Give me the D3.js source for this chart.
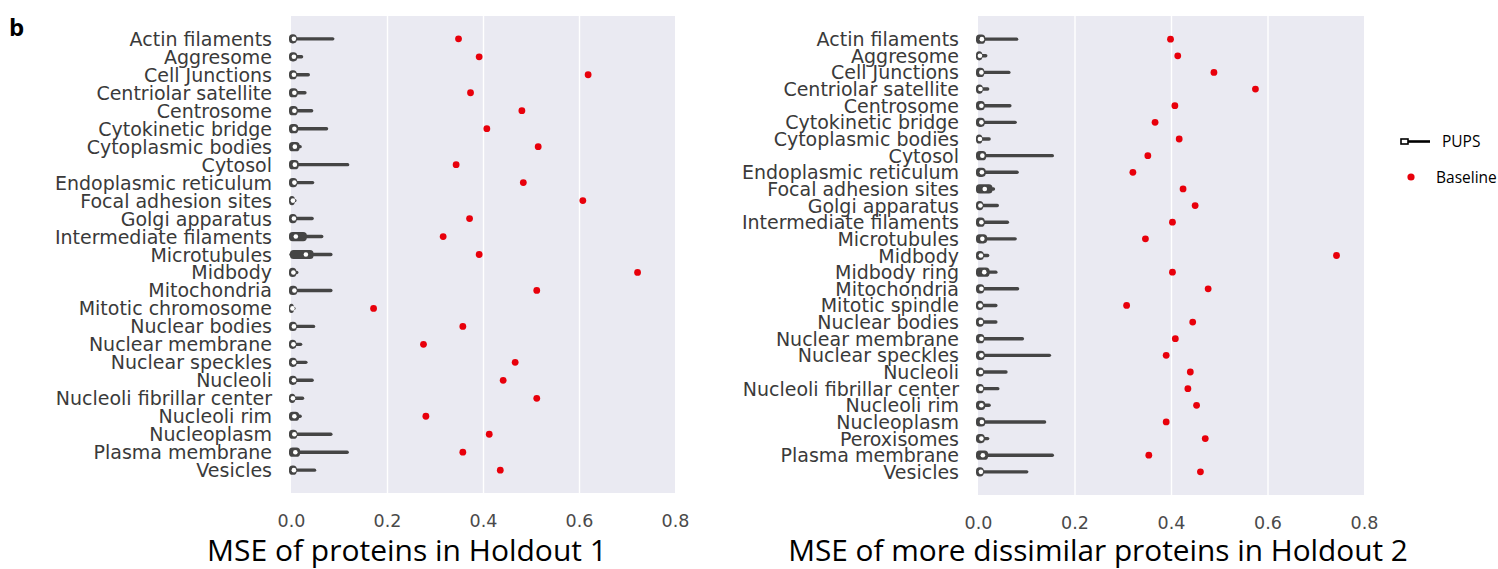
<!DOCTYPE html>
<html>
<head>
<meta charset="utf-8">
<script src="https://cdn.jsdelivr.net/npm/d3@7"></script>
<style>
  body { margin: 0; background: #fff; }
  svg { display: block; }
</style>
</head>
<body>
<svg id="chart" width="1498" height="569"></svg>
<script>
// ---- data ----
var cats1 = ['Actin filaments', 'Aggresome', 'Cell Junctions', 'Centriolar satellite', 'Centrosome',
  'Cytokinetic bridge', 'Cytoplasmic bodies', 'Cytosol', 'Endoplasmic reticulum', 'Focal adhesion sites',
  'Golgi apparatus', 'Intermediate filaments', 'Microtubules', 'Midbody', 'Mitochondria',
  'Mitotic chromosome', 'Nuclear bodies', 'Nuclear membrane', 'Nuclear speckles', 'Nucleoli',
  'Nucleoli fibrillar center', 'Nucleoli rim', 'Nucleoplasm', 'Plasma membrane', 'Vesicles'];
var baseline1 = [0.349, 0.392, 0.619, 0.374, 0.481, 0.408, 0.515, 0.344, 0.484, 0.608,
  0.372, 0.317, 0.392, 0.722, 0.512, 0.172, 0.358, 0.276, 0.467, 0.442,
  0.512, 0.281, 0.413, 0.358, 0.436];
// PUPS distribution summary: box low / median / box high / upper whisker
var q1_1 = [0, 0, 0, 0, 0, 0, 0, 0, 0, 0, 0, 0, 0.002, 0, 0, 0, 0, 0, 0, 0, 0, 0, 0, 0, 0];
var med1 = [0.006, 0.006, 0.006, 0.007, 0.007, 0.007, 0.008, 0.008, 0.007, 0.004,
  0.006, 0.010, 0.031, 0.005, 0.007, 0.003, 0.006, 0.005, 0.006, 0.006,
  0.004, 0.007, 0.007, 0.009, 0.006];
var q3_1 = [0.012, 0.013, 0.012, 0.014, 0.014, 0.015, 0.018, 0.016, 0.013, 0.008,
  0.012, 0.033, 0.047, 0.011, 0.013, 0.006, 0.012, 0.011, 0.012, 0.012,
  0.009, 0.017, 0.013, 0.019, 0.012];
var whisker1 = [0.087, 0.022, 0.036, 0.029, 0.043, 0.074, 0.019, 0.118, 0.045, 0.008,
  0.044, 0.064, 0.083, 0.012, 0.083, 0.006, 0.047, 0.020, 0.031, 0.044,
  0.024, 0.019, 0.083, 0.117, 0.049];

var cats2 = ['Actin filaments', 'Aggresome', 'Cell Junctions', 'Centriolar satellite', 'Centrosome',
  'Cytokinetic bridge', 'Cytoplasmic bodies', 'Cytosol', 'Endoplasmic reticulum', 'Focal adhesion sites',
  'Golgi apparatus', 'Intermediate filaments', 'Microtubules', 'Midbody', 'Midbody ring',
  'Mitochondria', 'Mitotic spindle', 'Nuclear bodies', 'Nuclear membrane', 'Nuclear speckles',
  'Nucleoli', 'Nucleoli fibrillar center', 'Nucleoli rim', 'Nucleoplasm', 'Peroxisomes',
  'Plasma membrane', 'Vesicles'];
var baseline2 = [0.399, 0.414, 0.489, 0.575, 0.408, 0.367, 0.417, 0.352, 0.321, 0.425,
  0.450, 0.403, 0.347, 0.743, 0.403, 0.477, 0.308, 0.445, 0.409, 0.390,
  0.440, 0.435, 0.453, 0.390, 0.471, 0.354, 0.461];
var q1_2 = [0, 0, 0, 0, 0, 0, 0, 0, 0, 0, 0, 0, 0, 0, 0, 0, 0, 0, 0, 0, 0, 0, 0, 0, 0, 0, 0];
var med2 = [0.008, 0.004, 0.007, 0.005, 0.007, 0.007, 0.004, 0.009, 0.008, 0.014,
  0.005, 0.007, 0.009, 0.006, 0.013, 0.007, 0.005, 0.006, 0.007, 0.007,
  0.006, 0.006, 0.007, 0.008, 0.007, 0.010, 0.006];
var q3_2 = [0.015, 0.009, 0.013, 0.010, 0.014, 0.014, 0.009, 0.017, 0.016, 0.030,
  0.011, 0.014, 0.019, 0.012, 0.024, 0.013, 0.011, 0.012, 0.013, 0.014,
  0.012, 0.012, 0.015, 0.015, 0.014, 0.021, 0.012];
var whisker2 = [0.080, 0.016, 0.064, 0.020, 0.066, 0.077, 0.023, 0.154, 0.081, 0.032,
  0.040, 0.061, 0.077, 0.020, 0.037, 0.082, 0.037, 0.037, 0.092, 0.148,
  0.058, 0.041, 0.023, 0.138, 0.020, 0.154, 0.101];

var xTicks = [0, 0.2, 0.4, 0.6, 0.8];

var svg = d3.select('#chart');
var bgColor = '#eaeaf2';
var violinColor = '#454545';
var dotColor = '#e8000b';

function draw_panel(opts) {
  var xScale = d3.scaleLinear().domain([0, 0.8]).range([opts.left, opts.right]);
  var yScale = d3.scalePoint().domain(opts.cats).range([opts.top, opts.bottom]).padding(opts.pad);
  var g = svg.append('g');

  g.append('rect')
    .attr('x', opts.left).attr('y', opts.top)
    .attr('width', opts.right - opts.left).attr('height', opts.bottom - opts.top)
    .attr('fill', bgColor);

  // vertical grid lines
  g.append('g')
    .attr('transform', 'translate(0,' + opts.bottom + ')')
    .call(d3.axisBottom(xScale).tickValues(xTicks.slice(1, -1)).tickSize(-(opts.bottom - opts.top)).tickFormat(''))
    .call(function(a) { a.select('.domain').remove(); })
    .selectAll('line').attr('stroke', '#fff').attr('stroke-width', 1.4);

  // tick labels
  g.append('g')
    .attr('transform', 'translate(0,' + (opts.bottom + 19) + ')')
    .call(d3.axisBottom(xScale).tickValues(xTicks).tickSize(0).tickFormat(d3.format('.1f')))
    .call(function(a) { a.select('.domain').remove(); })
    .selectAll('text')
    .attr('font-family', 'DejaVu Sans').attr('font-size', 17.5).attr('fill', '#4a4a4a');

  // category labels
  g.append('g').selectAll('text')
    .data(opts.cats)
    .enter().append('text')
    .attr('x', opts.left - 19)
    .attr('y', function(d) { return yScale(d) + 7; })
    .attr('text-anchor', 'end')
    .attr('font-family', 'DejaVu Sans').attr('font-size', 19).attr('fill', '#3a3a3a')
    .text(function(d) { return d; });

  var rows = opts.cats.map(function(c, i) {
    return { cat: c, q1: opts.q1[i], med: opts.med[i], q3: opts.q3[i], hi: opts.whisker[i], base: opts.base[i] };
  });

  var vg = g.append('g');
  // whiskers
  vg.selectAll('line.whisker')
    .data(rows).enter().append('line')
    .attr('class', 'whisker')
    .attr('x1', xScale(0)).attr('x2', function(d) { return xScale(d.hi); })
    .attr('y1', function(d) { return yScale(d.cat); }).attr('y2', function(d) { return yScale(d.cat); })
    .attr('stroke', violinColor).attr('stroke-width', 3.4).attr('stroke-linecap', 'round');
  // boxes
  vg.selectAll('rect.box')
    .data(rows).enter().append('rect')
    .attr('class', 'box')
    .attr('x', function(d) { return xScale(d.q1) - 2; })
    .attr('width', function(d) { return xScale(d.q3) - xScale(d.q1) + 2; })
    .attr('y', function(d) { return yScale(d.cat) - 4.6; })
    .attr('height', 9.2).attr('rx', 3.6)
    .attr('fill', violinColor);
  // medians
  vg.selectAll('circle.median')
    .data(rows).enter().append('circle')
    .attr('class', 'median')
    .attr('cx', function(d) { return xScale(d.med); })
    .attr('cy', function(d) { return yScale(d.cat); })
    .attr('r', 2.3).attr('fill', '#fff');

  // baseline points
  g.append('g').selectAll('circle')
    .data(rows).enter().append('circle')
    .attr('cx', function(d) { return xScale(d.base); })
    .attr('cy', function(d) { return yScale(d.cat); })
    .attr('r', 3.4).attr('fill', dotColor);

  // axis title, fitted to the width it takes in the figure
  var t = svg.append('text')
    .attr('x', opts.titleX).attr('y', 561)
    .attr('text-anchor', 'middle')
    .attr('font-family', 'Open Sans').attr('font-size', 28).attr('fill', '#000')
    .text(opts.title);
  var len = t.node().getComputedTextLength();
  t.attr('font-size', 28 * opts.titleW / len);
}

draw_panel({
  cats: cats1, base: baseline1, q1: q1_1, med: med1, q3: q3_1, whisker: whisker1,
  left: 291, right: 675, top: 16, bottom: 493, pad: 1.27,
  title: 'MSE of proteins in Holdout 1', titleX: 407, titleW: 400
});
draw_panel({
  cats: cats2, base: baseline2, q1: q1_2, med: med2, q3: q3_2, whisker: whisker2,
  left: 978, right: 1364, top: 16, bottom: 495, pad: 1.39,
  title: 'MSE of more dissimilar proteins in Holdout 2', titleX: 1098, titleW: 620
});

// panel letter
svg.append('text')
  .attr('x', 9).attr('y', 36)
  .attr('font-family', 'Open Sans').attr('font-weight', 'bold').attr('font-size', 24)
  .text('b');

// legend
var legend = svg.append('g');
legend.append('line')
  .attr('x1', 1404).attr('x2', 1430).attr('y1', 141.5).attr('y2', 141.5)
  .attr('stroke', '#000').attr('stroke-width', 2.6);
legend.append('rect')
  .attr('x', 1401).attr('y', 139).attr('width', 7).attr('height', 5)
  .attr('fill', '#fff').attr('stroke', '#000').attr('stroke-width', 1.6);
legend.append('text')
  .attr('x', 1442).attr('y', 147)
  .attr('font-family', 'Open Sans').attr('font-size', 15.5).text('PUPS');
legend.append('circle')
  .attr('cx', 1411).attr('cy', 177).attr('r', 3.6).attr('fill', dotColor);
legend.append('text')
  .attr('x', 1436).attr('y', 182.5)
  .attr('font-family', 'Open Sans').attr('font-size', 15.5).text('Baseline');
</script>
</body>
</html>
